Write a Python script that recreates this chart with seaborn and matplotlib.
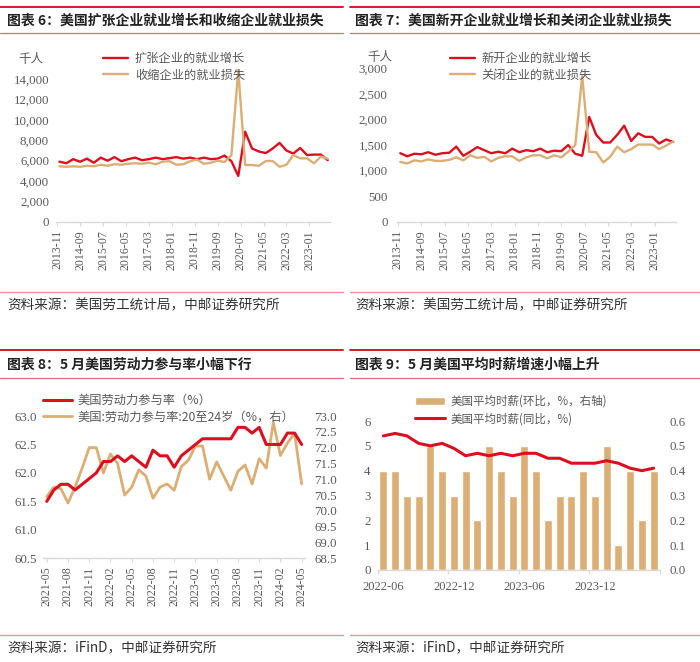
import numpy as np
import pandas as pd
import matplotlib
matplotlib.use("Agg")
import matplotlib.pyplot as plt
from matplotlib.lines import Line2D
from matplotlib.ticker import FuncFormatter
import seaborn as sns

# ---------------- data ----------------
# Fig 6 / Fig 7: quarterly, 2013-12 .. 2023-09 (thousand persons)
quarter_start, quarter_end = "2013-12-01", "2023-09-01"
expand_gain = [5900, 5750, 6150, 5900, 6200, 5800, 6300, 6000, 6350, 5950,
               6150, 6300, 6050, 6150, 6300, 6150, 6250, 6350, 6200, 6300,
               6150, 6300, 6150, 6200, 6500, 5950, 4500, 8850, 7200, 6900,
               6750, 7200, 7750, 7000, 6700, 7250, 6550, 6600, 6600, 6050]
contract_loss = [5450, 5400, 5450, 5400, 5500, 5450, 5600, 5500, 5650, 5600,
                 5700, 5750, 5700, 5800, 5650, 5900, 5950, 5600, 5650, 5950,
                 6100, 5700, 5800, 6000, 5870, 6550, 14900, 5570, 5570, 5500,
                 5970, 5970, 5400, 5600, 6560, 6230, 6230, 5740, 6400, 6200]
open_gain = [1340, 1280, 1330, 1320, 1360, 1310, 1340, 1350, 1470, 1290,
             1370, 1460, 1400, 1340, 1370, 1340, 1430, 1360, 1400, 1380,
             1430, 1360, 1390, 1380, 1500, 1330, 1290, 2050, 1700, 1550,
             1550, 1700, 1880, 1580, 1730, 1660, 1660, 1530, 1610, 1560]
close_loss = [1170, 1140, 1200, 1180, 1220, 1190, 1190, 1210, 1260, 1200,
              1300, 1250, 1270, 1180, 1250, 1280, 1280, 1190, 1260, 1300,
              1300, 1240, 1300, 1260, 1370, 1500, 2850, 1370, 1360, 1160,
              1270, 1470, 1360, 1420, 1510, 1510, 1510, 1420, 1490, 1570]
quarter_ticks = ["2013-11", "2014-09", "2015-07", "2016-05", "2017-03", "2018-01",
                 "2018-11", "2019-09", "2020-07", "2021-05", "2022-03", "2023-01"]

# Fig 8: monthly 2021-05 .. 2024-05
lfpr_start, lfpr_end = "2021-05-01", "2024-05-01"
lfpr_all = [61.5, 61.7, 61.8, 61.8, 61.7, 61.8, 61.9, 62.0, 62.2, 62.2,
            62.3, 62.2, 62.3, 62.2, 62.1, 62.4, 62.3, 62.3, 62.1, 62.3,
            62.4, 62.5, 62.6, 62.6, 62.6, 62.6, 62.6, 62.8, 62.8, 62.7,
            62.8, 62.5, 62.5, 62.5, 62.7, 62.7, 62.5]
lfpr_20_24 = [70.45, 70.75, 70.7, 70.25, 70.75, 71.35, 72.0, 72.0, 71.2, 71.8,
              71.5, 70.5, 70.75, 71.3, 71.1, 70.4, 70.75, 70.85, 70.65, 71.4,
              71.6, 72.05, 72.05, 71.0, 71.55, 71.1, 70.65, 71.25, 71.45, 70.85,
              71.65, 71.35, 72.8, 71.75, 72.15, 72.45, 70.85]
lfpr_ticks = ["2021-05", "2021-08", "2021-11", "2022-02", "2022-05", "2022-08",
              "2022-11", "2023-02", "2023-05", "2023-08", "2023-11", "2024-02", "2024-05"]

# Fig 9: monthly 2022-06 .. 2024-05
wage_start, wage_end = "2022-06-01", "2024-05-01"
wage_mom = [0.4, 0.4, 0.3, 0.3, 0.5, 0.4, 0.3, 0.4, 0.2, 0.5, 0.4, 0.3,
            0.5, 0.4, 0.2, 0.3, 0.3, 0.4, 0.3, 0.5, 0.1, 0.4, 0.2, 0.4]
wage_yoy = [5.4, 5.5, 5.4, 5.1, 5.0, 5.1, 4.9, 4.6, 4.7, 4.6, 4.7, 4.6,
            4.7, 4.7, 4.5, 4.5, 4.3, 4.3, 4.3, 4.4, 4.3, 4.1, 4.0, 4.1]
wage_ticks = ["2022-06", "2022-12", "2023-06", "2023-12"]

# ---------------- style ----------------
sns.set_theme(style="white")
plt.rcParams["font.family"] = ["Liberation Serif", "DejaVu Sans"]
CJK = ["Noto Sans CJK SC", "DejaVu Sans"]
RED = "#DC0F1E"
TAN = "#DBAE76"
AXIS = "#D9D9D9"
TICK = "#595959"
TXT = "#595959"
W, H = 700, 662

fig = plt.figure(figsize=(W / 100, H / 100), dpi=100)


def px_axes(l, t, r, b):
    return fig.add_axes([l / W, 1 - b / H, (r - l) / W, (b - t) / H])


def hline(x0, x1, y, color, lw):
    fig.add_artist(Line2D([x0 / W, x1 / W], [1 - y / H, 1 - y / H],
                          transform=fig.transFigure, color=color, lw=lw))


def ftext(x, y, s, **kw):
    fig.text(x / W, 1 - y / H, s, va="center", ha="left", **kw)


def month_index(s, base_year, base_month):
    d = pd.Timestamp(s)
    return (d.year - base_year) * 12 + d.month - base_month


def clean(ax, bottom=True):
    for s in ["top", "right", "left"]:
        ax.spines[s].set_visible(False)
    ax.spines["bottom"].set_visible(bottom)
    ax.spines["bottom"].set_color(AXIS)
    ax.spines["bottom"].set_linewidth(1.0)
    ax.grid(False)
    ax.set_xlabel("")
    ax.set_ylabel("")
    ax.set_facecolor("none")


def legend(ax, handles, labels, x, y, fs, hl, htp, ls):
    leg = ax.legend(handles, labels, loc="upper left",
                    bbox_to_anchor=(x / W, 1 - y / H), bbox_transform=fig.transFigure,
                    frameon=False, prop={"family": CJK, "size": fs},
                    handlelength=hl, handletextpad=htp, labelspacing=ls,
                    borderpad=0, borderaxespad=0)
    for t in leg.get_texts():
        t.set_color(TXT)
    return leg


# ---------------- frames: titles, rules, sources ----------------
for (x0, x1) in [(0, 343), (350, 700)]:
    hline(x0, x1, 7, "#D7192A", 1.4)
    hline(x0, x1, 33, "#DE6A74", 0.9)
    hline(x0, x1, 292, "#E8949C", 1.0)
    hline(x0, x1, 350, "#D7192A", 1.4)
    hline(x0, x1, 378, "#DE6A74", 0.9)
    hline(x0, x1, 635, "#E8949C", 1.0)

title_kw = dict(family=CJK, fontsize=10, fontweight="bold", color="#222222")
ftext(7, 21, "图表 6：美国扩张企业就业增长和收缩企业就业损失", **title_kw)
ftext(355, 21, "图表 7：美国新开企业就业增长和关闭企业就业损失", **title_kw)
ftext(7, 365, "图表 8：5 月美国劳动力参与率小幅下行", **title_kw)
ftext(355, 365, "图表 9：5 月美国平均时薪增速小幅上升", **title_kw)

src_kw = dict(family=CJK, fontsize=9.8, color="#333333")
ftext(7, 305, "资料来源：美国劳工统计局，中邮证券研究所", **src_kw)
ftext(355, 305, "资料来源：美国劳工统计局，中邮证券研究所", **src_kw)
ftext(7, 648, "资料来源：iFinD，中邮证券研究所", **src_kw)
ftext(355, 648, "资料来源：iFinD，中邮证券研究所", **src_kw)

# ---------------- quarterly panels (6, 7) ----------------
qdates = pd.date_range(quarter_start, quarter_end, freq="3MS")
qm = [(d.year - 2013) * 12 + d.month - 11 for d in qdates]
qtick_pos = [month_index(s, 2013, 11) for s in quarter_ticks]
comma = FuncFormatter(lambda v, p: f"{int(v):,}")


def quarterly_panel(rect, s1, s2, lab1, lab2, ylim, yticks, ypad, leg_xy, unit_xy):
    ax = px_axes(*rect)
    df = pd.DataFrame({"m": qm + qm, "v": s1 + s2,
                       "s": [lab1] * len(s1) + [lab2] * len(s2)})
    sns.lineplot(data=df, x="m", y="v", hue="s", hue_order=[lab1, lab2],
                 palette=[RED, TAN], linewidth=1.7, ax=ax)
    clean(ax)
    ax.set_xlim(-0.5, 119)
    ax.set_ylim(*ylim)
    ax.set_yticks(yticks)
    ax.yaxis.set_major_formatter(comma)
    ax.set_xticks(qtick_pos)
    ax.set_xticklabels(quarter_ticks, rotation=90)
    ax.tick_params(axis="y", length=0, labelsize=9.3, labelcolor=TICK, pad=ypad)
    ax.tick_params(axis="x", length=3, width=0.8, color=AXIS, labelsize=8.6,
                   labelcolor=TICK, pad=3, bottom=True, direction="out")
    h, l = ax.get_legend_handles_labels()
    legend(ax, h, l, leg_xy[0], leg_xy[1], 8.8, 2.05, 0.55, 0.3)
    ftext(unit_xy[0], unit_xy[1], "千人", family=CJK, fontsize=9, color=TXT)
    return ax


quarterly_panel((56, 59, 330, 221.7), expand_gain, contract_loss,
                "扩张企业的就业增长", "收缩企业的就业损失",
                (0, 16000), range(0, 14001, 2000), 5, (103, 52), (18, 59))
quarterly_panel((396.8, 58.2, 675.5, 221.7), open_gain, close_loss,
                "新开企业的就业增长", "关闭企业的就业损失",
                (0, 3200), range(0, 3001, 500), 6.5, (450, 52), (367, 57))

# ---------------- panel 8 ----------------
lm = list(range(len(pd.date_range(lfpr_start, lfpr_end, freq="MS"))))
ltick_pos = [month_index(s, 2021, 5) for s in lfpr_ticks]
ax8b = px_axes(43.2, 416, 304.5, 558.3)
sns.lineplot(x=lm, y=lfpr_20_24, color=TAN, linewidth=2.0, ax=ax8b,
             label="美国:劳动力参与率:20至24岁（%，右）")
ax8t = ax8b.twinx()
sns.lineplot(x=lm, y=lfpr_all, color=RED, linewidth=2.2, ax=ax8t,
             label="美国劳动力参与率（%）")
for a in (ax8b, ax8t):
    clean(a, bottom=(a is ax8b))
    if a.get_legend():
        a.get_legend().remove()
ax8b.set_xlim(-0.5, 36.4)
ax8b.set_ylim(68.5, 73.0)
ax8b.set_yticks(np.arange(68.5, 73.01, 0.5))
ax8b.yaxis.set_major_formatter(FuncFormatter(lambda v, p: f"{v:.1f}"))
ax8b.yaxis.tick_right()
ax8t.set_ylim(60.5, 63.0)
ax8t.set_yticks(np.arange(60.5, 63.01, 0.5))
ax8t.yaxis.set_major_formatter(FuncFormatter(lambda v, p: f"{v:.1f}"))
ax8t.yaxis.tick_left()
ax8b.set_xticks(ltick_pos)
ax8b.set_xticklabels(lfpr_ticks, rotation=90)
ax8b.tick_params(axis="y", length=0, labelsize=9.3, labelcolor=TICK, pad=7)
ax8t.tick_params(axis="y", length=0, labelsize=9.3, labelcolor=TICK, pad=4.5)
ax8b.tick_params(axis="x", length=3, width=0.8, color=AXIS, labelsize=8.6,
                 labelcolor=TICK, pad=3, bottom=True, direction="out")
h1, l1 = ax8t.get_legend_handles_labels()
h2, l2 = ax8b.get_legend_handles_labels()
legend(ax8t, h1 + h2, l1 + l2, 43, 394, 8.8, 2.35, 0.45, 0.3)

# ---------------- panel 9 ----------------
wdates = pd.date_range(wage_start, wage_end, freq="MS")
wlab = [d.strftime("%Y-%m") for d in wdates]
wpos = list(range(len(wlab)))
ax9b = px_axes(377.5, 421, 659.5, 570)
sns.barplot(x=wlab, y=wage_mom, color=TAN, saturation=1, width=0.7, ax=ax9b,
            label="美国平均时薪(环比，%，右轴)")
ax9t = ax9b.twinx()
sns.lineplot(x=wpos, y=wage_yoy, color=RED, linewidth=2.2, ax=ax9t,
             label="美国平均时薪(同比，%)")
for a in (ax9b, ax9t):
    clean(a, bottom=(a is ax9b))
    if a.get_legend():
        a.get_legend().remove()
ax9b.set_xlim(-0.5, 23.5)
ax9b.set_ylim(0, 0.6)
ax9b.set_yticks(np.arange(0, 0.61, 0.1))
ax9b.yaxis.set_major_formatter(FuncFormatter(lambda v, p: f"{v:.1f}"))
ax9b.yaxis.tick_right()
ax9t.set_ylim(0, 6)
ax9t.set_yticks(range(0, 7))
ax9t.yaxis.tick_left()
ax9b.set_xticks([wlab.index(t) for t in wage_ticks])
ax9b.set_xticklabels(wage_ticks)
ax9b.set_xticks([p - 0.5 for p in wpos[::6]] + [23.5], minor=True)
ax9b.tick_params(axis="x", which="major", length=0, labelsize=9, labelcolor=TICK, pad=8)
ax9b.tick_params(axis="x", which="minor", length=3, width=0.8, color=AXIS,
                 bottom=True, direction="out")
ax9b.tick_params(axis="y", length=0, labelsize=9.3, labelcolor=TICK, pad=7)
ax9t.tick_params(axis="y", length=0, labelsize=9.3, labelcolor=TICK, pad=5)
h1, l1 = ax9b.get_legend_handles_labels()
h2, l2 = ax9t.get_legend_handles_labels()
legend(ax9t, h1 + h2, l1 + l2, 415, 395, 8.3, 2.6, 0.45, 0.35)

fig.savefig("out.png", dpi=100)
